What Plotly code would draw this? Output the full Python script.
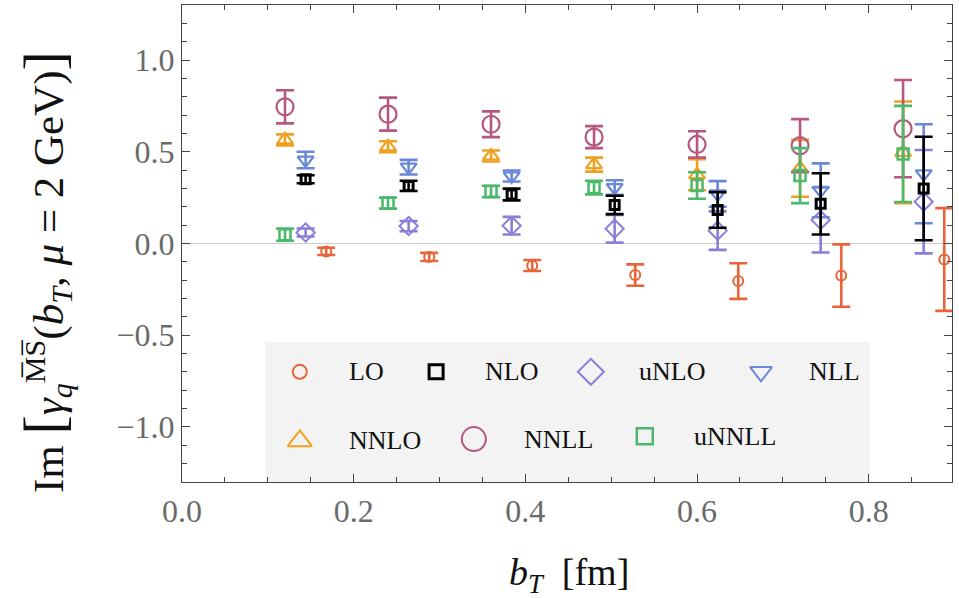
import plotly.graph_objects as go

# ---------------- data ----------------
b_T = [0.12, 0.24, 0.36, 0.48, 0.60, 0.72, 0.84]

LO = [-0.043, -0.073, -0.12, -0.172, -0.205, -0.175, -0.087]
LO_err = [0.02, 0.022, 0.03, 0.058, 0.097, 0.17, 0.28]
NLO = [0.35, 0.314, 0.267, 0.21, 0.183, 0.216, 0.30]
NLO_err = [0.022, 0.028, 0.032, 0.05, 0.097, 0.167, 0.282]
uNLO = [0.06, 0.095, 0.097, 0.08, 0.07, 0.128, 0.228]
uNLO_err = [0.022, 0.028, 0.048, 0.075, 0.105, 0.177, 0.282]
NLL = [0.455, 0.416, 0.368, 0.305, 0.27, 0.29, 0.38]
NLL_err = [0.045, 0.04, 0.03, 0.04, 0.07, 0.147, 0.27]
NNLO = [0.565, 0.527, 0.477, 0.43, 0.375, 0.41, 0.497]
NNLO_err = [0.03, 0.03, 0.03, 0.038, 0.085, 0.155, 0.277]
NNLL = [0.745, 0.705, 0.65, 0.58, 0.54, 0.533, 0.626]
NNLL_err = [0.09, 0.09, 0.07, 0.06, 0.072, 0.145, 0.265]
uNNLL = [0.048, 0.22, 0.284, 0.305, 0.316, 0.37, 0.488]
uNNLL_err = [0.033, 0.03, 0.031, 0.037, 0.072, 0.15, 0.262]

x_ticks = [0.0, 0.2, 0.4, 0.6, 0.8]
y_ticks = [-1.0, -0.5, 0.0, 0.5, 1.0]

# ---------------- styles ----------------
SERIF = "Liberation Serif, Times New Roman, serif"
series = [
    # name, values, errors, x-shift, color, symbol, size, lw
    ("LO", LO, LO_err, 0.048, "#e8653a", "circle-open", 10, 2),
    ("uNLO", uNLO, uNLO_err, 0.024, "#8a7fd8", "diamond-open", 14, 2),
    ("NLL", NLL, NLL_err, 0.024, "#6b88d8", "triangle-down-open", 14, 2.2),
    ("NLO", NLO, NLO_err, 0.024, "#000000", "square-open", 9, 3),
    ("NNLO", NNLO, NNLO_err, 0.0, "#f0a020", "triangle-up-open", 14, 2.2),
    ("NNLL", NNLL, NNLL_err, 0.0, "#b5577f", "circle-open", 17, 2.2),
    ("uNNLL", uNNLL, uNNLL_err, 0.0, "#4cb86a", "square-open", 11, 2.5),
]

fig = go.Figure()
for name, vals, errs, shift, color, sym, size, lw in series:
    fig.add_trace(go.Scatter(
        x=[b + shift for b in b_T], y=vals, mode="markers", name=name,
        marker=dict(symbol=sym, size=size, color=color, line=dict(color=color, width=lw)),
        error_y=dict(type="data", array=errs, color=color, thickness=2.6, width=9),
        showlegend=False, cliponaxis=False,
    ))

# ---------------- manual legend ----------------
leg_items = [
    # name, marker-x, marker-y, text-x, color, symbol, size, lw
    ("LO", 0.153, 0.231, 0.214, "#e8653a", "circle-open", 14, 2),
    ("NLO", 0.330, 0.231, 0.391, "#000000", "square-open", 14, 3),
    ("uNLO", 0.531, 0.231, 0.591, "#8a7fd8", "diamond-open", 20, 2),
    ("NLL", 0.752, 0.231, 0.812, "#6b88d8", "triangle-down-open", 19, 2),
    ("NNLO", 0.153, 0.086, 0.214, "#f0a020", "triangle-up-open", 21, 2),
    ("NNLL", 0.379, 0.090, 0.441, "#b5577f", "circle-open", 24, 2),
    ("uNNLL", 0.601, 0.096, 0.662, "#4cb86a", "square-open", 16, 2.5),
]
for name, mx, my, tx, color, sym, size, lw in leg_items:
    fig.add_trace(go.Scatter(
        x=[mx], y=[my], xaxis="x2", yaxis="y2", mode="markers", showlegend=False,
        marker=dict(symbol=sym, size=size, color=color, line=dict(color=color, width=lw)),
        hoverinfo="skip",
    ))
    fig.add_annotation(x=tx, y=my, xref="paper", yref="paper", text=name,
                       showarrow=False, xanchor="left", yanchor="middle",
                       font=dict(family=SERIF, size=26, color="#111"))

fig.add_shape(type="rect", xref="paper", yref="paper", x0=0.108, x1=0.8935, y0=0.0, y1=0.2935,
              fillcolor="#f3f3f3", line=dict(width=0), layer="below")

axis_common = dict(
    showgrid=False, showline=True, linecolor="#444", linewidth=1.2, mirror="allticks",
    ticks="inside", ticklen=8, tickwidth=1, tickcolor="#444",
    tickfont=dict(family=SERIF, size=32, color="#6a6a6a"),
)
fig.update_layout(
    width=959, height=598,
    margin=dict(l=182, r=7, t=5, b=116),
    paper_bgcolor="white", plot_bgcolor="white",
    showlegend=False,
    xaxis=dict(range=[0, 0.897], tickvals=x_ticks, ticktext=[f"{v:.1f}" for v in x_ticks],
               zeroline=False,
               minor=dict(dtick=0.05, ticks="inside", ticklen=5, tickcolor="#444", showgrid=False),
               **axis_common),
    yaxis=dict(range=[-1.3, 1.3], tickvals=y_ticks,
               ticktext=[f"{v:.1f}".replace("-", "\u2212") for v in y_ticks],
               zeroline=True, zerolinecolor="#cccccc", zerolinewidth=1,
               minor=dict(dtick=0.1, ticks="inside", ticklen=5, tickcolor="#444", showgrid=False),
               **axis_common),
    xaxis2=dict(overlaying="x", range=[0, 1], visible=False, showticklabels=False),
    yaxis2=dict(overlaying="y", range=[0, 1], visible=False, showticklabels=False),
)

ytitle = ("Im <span style='font-size:58px'>[</span><i>γ</i><sub><i>q</i></sub>"
          "<sup>M\u0305S\u0305</sup>(<i>b</i><sub><i>T</i></sub>, <i>μ</i> = 2 GeV)"
          "<span style='font-size:58px'>]</span>")
fig.add_annotation(x=-0.178, y=0.44, xref="paper", yref="paper", text=ytitle,
                   textangle=-90, showarrow=False, xanchor="center", yanchor="middle",
                   font=dict(family=SERIF, size=43, color="#111"))
fig.add_annotation(x=0.502, y=-0.195, xref="paper", yref="paper",
                   text="<i>b</i><sub><i>T</i></sub>  [fm]", showarrow=False,
                   xanchor="center", yanchor="middle",
                   font=dict(family=SERIF, size=38, color="#111"))

fig.write_html("out.html")
